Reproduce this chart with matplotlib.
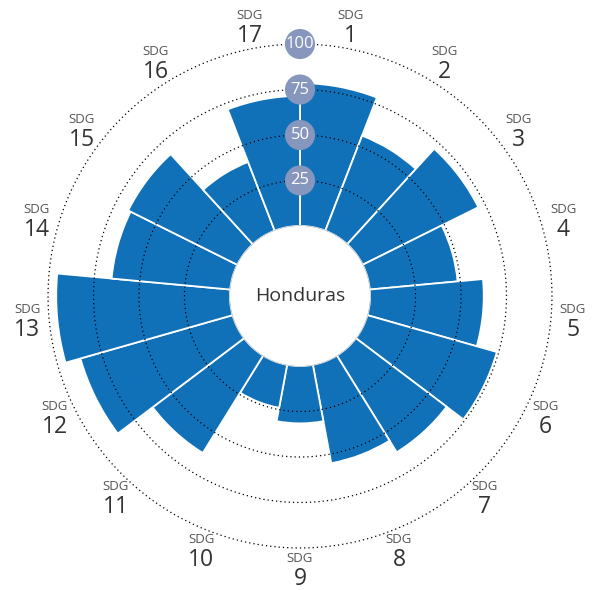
import numpy as np
import matplotlib
matplotlib.use("Agg")
import matplotlib.pyplot as plt

# --- DADOS ---
pais = "Honduras"
rotulos_sdg = [str(i) for i in range(1, 18)]
valores = [78.5, 56, 71, 48.5, 62.5, 74, 62.5, 55, 31.5, 24,
           63, 87, 95.5, 65.5, 67, 40.5, 71.5]
aneis = [25, 50, 75, 100]

# --- ESTILO ---
COR_BARRA = '#1071b9'
COR_SELO = '#8796bd'
FONTE = ['Open Sans', 'DejaVu Sans']
plt.rcParams['font.family'] = FONTE

FURO = 38.5        # raio do furo central (unidades de valor)
R_MAX = 123.1      # limite externo do eixo
R_ROTULO = 112.0   # posicao dos rotulos SDG

W, H = 598, 590
fig = plt.figure(figsize=(W / 100, H / 100), dpi=100)
meio = 294
ax = fig.add_axes([(300 - meio) / W, (H - 296 - meio) / H, 2 * meio / W, 2 * meio / H],
                  projection='polar')
ax.set_theta_zero_location('N')
ax.set_theta_direction(-1)
ax.set_ylim(0, R_MAX)
ax.set_rorigin(-FURO)
ax.axis('off')

n = len(valores)
largura = 2 * np.pi / n
centros = (np.arange(n) + 0.5) * largura

# barras
ax.bar(centros, valores, width=largura, bottom=0, color=COR_BARRA,
       edgecolor='white', linewidth=1.3, zorder=2)

# aneis pontilhados
theta = np.linspace(0, 2 * np.pi, 720)
for r in aneis:
    ax.plot(theta, np.full_like(theta, r), color='black', lw=0.9,
            linestyle=(0, (1, 2.4)), zorder=3)

# borda do furo
ax.plot(theta, np.zeros_like(theta), color='#b0b0b0', lw=0.6, zorder=3)

# selos na vertical
ax.scatter(np.zeros(len(aneis)), aneis, s=470, color=COR_SELO,
           edgecolor='none', zorder=5, clip_on=False)
for r in aneis:
    ax.text(0, r, str(r), color='white', fontsize=12, ha='center',
            va='center', zorder=6)

# rotulos
for ang, rot in zip(centros, rotulos_sdg):
    ax.annotate('SDG', xy=(ang, R_ROTULO), xytext=(0, 8.5), textcoords='offset points',
                ha='center', va='center', fontsize=9.5, color='#555555',
                annotation_clip=False)
    ax.annotate(rot, xy=(ang, R_ROTULO), xytext=(0, -6.5), textcoords='offset points',
                ha='center', va='center', fontsize=16.5, color='#333333',
                annotation_clip=False)

ax.text(0, -FURO, pais, ha='center', va='center', fontsize=14, color='#333333')

fig.savefig('out.png', dpi=100, facecolor='white')
